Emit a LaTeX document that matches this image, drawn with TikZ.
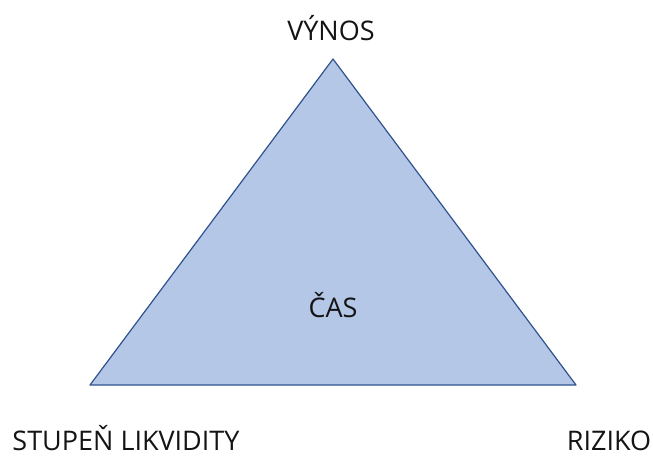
\documentclass[tikz,border=0pt]{standalone}
\usepackage{fontspec}
\setmainfont{Open Sans}
\definecolor{fg}{RGB}{20,20,20}
\definecolor{rim}{RGB}{47,82,143}
\definecolor{soft}{RGB}{180,199,231}
\tikzset{
  every picture/.style={fg, line join=round},
  every node/.style={font=\fontsize{27}{32}\selectfont, inner sep=0pt},
  % Flaeche des Dreiecks
  tri/.style={draw=rim, fill=soft, line width=1.2pt},
  % Beschriftungen an der Grundlinie ausgerichtet
  lbl/.style={anchor=base, text=fg},
}
\begin{document}
\begin{tikzpicture}[x=1pt, y=-1pt]
  \useasboundingbox (0,0) rectangle (653,455);
  % Ecken
  \coordinate (top) at (333,59);
  \coordinate (left) at (90,385);
  \coordinate (right) at (576,385);
  \draw[tri] (top) -- (right) -- (left) -- cycle;
  % Texte
  \node[lbl] (vynos) at (331,40) {VÝNOS};
  \node[lbl] (cas) at (333,317) {ČAS};
  \node[lbl] (likvidita) at (126,450) {STUPEŇ LIKVIDITY};
  \node[lbl] (riziko) at (609,450) {RIZIKO};
\end{tikzpicture}
\end{document}
